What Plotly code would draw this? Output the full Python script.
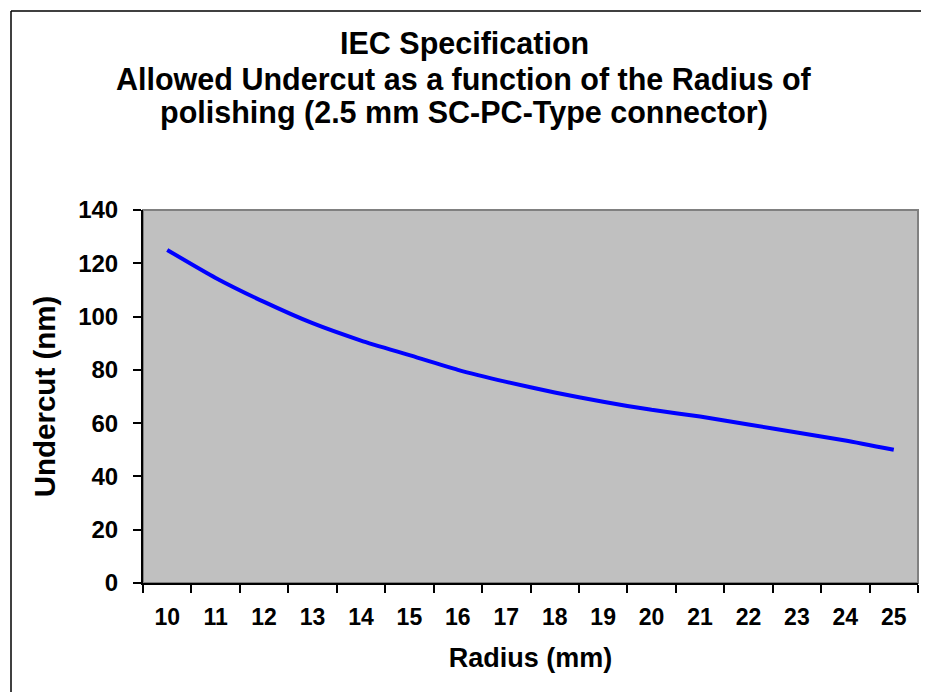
import plotly.graph_objects as go

# data
radius_mm = [str(r) for r in range(10, 26)]
undercut_nm = [125, 114.5, 105.5, 97.5, 91, 85.5, 80, 75.5, 71.5, 68, 65, 62.5, 59.5, 56.5, 53.5, 50]
y_ticks = [0, 20, 40, 60, 80, 100, 120, 140]
title_lines = [
    "IEC Specification",
    "Allowed Undercut as a function of the Radius of",
    "polishing (2.5 mm SC-PC-Type connector)",
]

FONT = "Liberation Sans, Arial, sans-serif"
# the page body has an 8px margin on every side, so the figure is
# 16px smaller than the window (no scrollbars) and shifted by 8px
OFF = 8
W, H = 929 - 2 * OFF, 700 - 2 * OFF
L, T = 143 - OFF, 210 - OFF
R = W - (918 - OFF)
B = H - (583 - OFF)
plot_w = W - L - R
plot_h = H - T - B


def px_x(px):
    return (px - OFF - L) / plot_w


def px_y(py):
    return 1 + (T - (py - OFF)) / plot_h


fig = go.Figure(
    go.Scatter(
        x=radius_mm,
        y=undercut_nm,
        mode="lines",
        line=dict(color="#0000FF", width=4, shape="spline", smoothing=0.6),
        hoverinfo="x+y",
    )
)

# title, one annotation per line so the line spacing matches
for text, py in zip(title_lines, [44, 79, 112]):
    fig.add_annotation(
        text=f"<b>{text}</b>",
        xref="paper", yref="paper",
        x=px_x(464), y=px_y(py),
        xanchor="center", yanchor="middle",
        showarrow=False,
        font=dict(family=FONT, size=30.5, color="black"),
    )

# plot area frame (grey top/right)
fig.add_shape(type="rect", xref="paper", yref="paper", x0=0, x1=1, y0=0, y1=1,
              line=dict(color="#808080", width=2), layer="below")
# outer chart border: only its left and top edges fall inside the picture
fig.add_shape(type="line", xref="paper", yref="paper",
              x0=px_x(11), x1=px_x(11), y0=px_y(700), y1=px_y(11),
              line=dict(color="black", width=1.5))
fig.add_shape(type="line", xref="paper", yref="paper",
              x0=px_x(11), x1=px_x(929), y0=px_y(11), y1=px_y(11),
              line=dict(color="black", width=1.5))

fig.update_layout(
    width=W, height=H,
    margin=dict(l=L, r=R, t=T, b=B),
    paper_bgcolor="white",
    plot_bgcolor="#C0C0C0",
    showlegend=False,
    font=dict(family=FONT, color="black"),
)
fig.update_xaxes(
    type="category",
    range=[-0.5, 15.5],
    tickson="boundaries",
    ticks="outside", ticklen=8, tickwidth=1.5, tickcolor="black",
    showline=True, linecolor="black", linewidth=2,
    showgrid=False, zeroline=False,
    tickfont=dict(size=23, family=FONT),
    tickprefix="<b>", ticksuffix="</b>",
    ticklabelstandoff=12,
    title=dict(text="<b>Radius (mm)</b>", font=dict(size=27, family=FONT), standoff=20),
)
fig.update_yaxes(
    range=[0, 140],
    tickvals=y_ticks,
    ticktext=[f"<b>{v}</b>" for v in y_ticks],
    ticks="outside", ticklen=8, tickwidth=1.5, tickcolor="black",
    showline=True, linecolor="black", linewidth=2,
    showgrid=False, zeroline=False,
    tickfont=dict(size=24, family=FONT),
    ticklabelstandoff=10,
    title=dict(text="<b>Undercut (nm)</b>", font=dict(size=29.5, family=FONT), standoff=14),
)

fig.write_html("out.html")
